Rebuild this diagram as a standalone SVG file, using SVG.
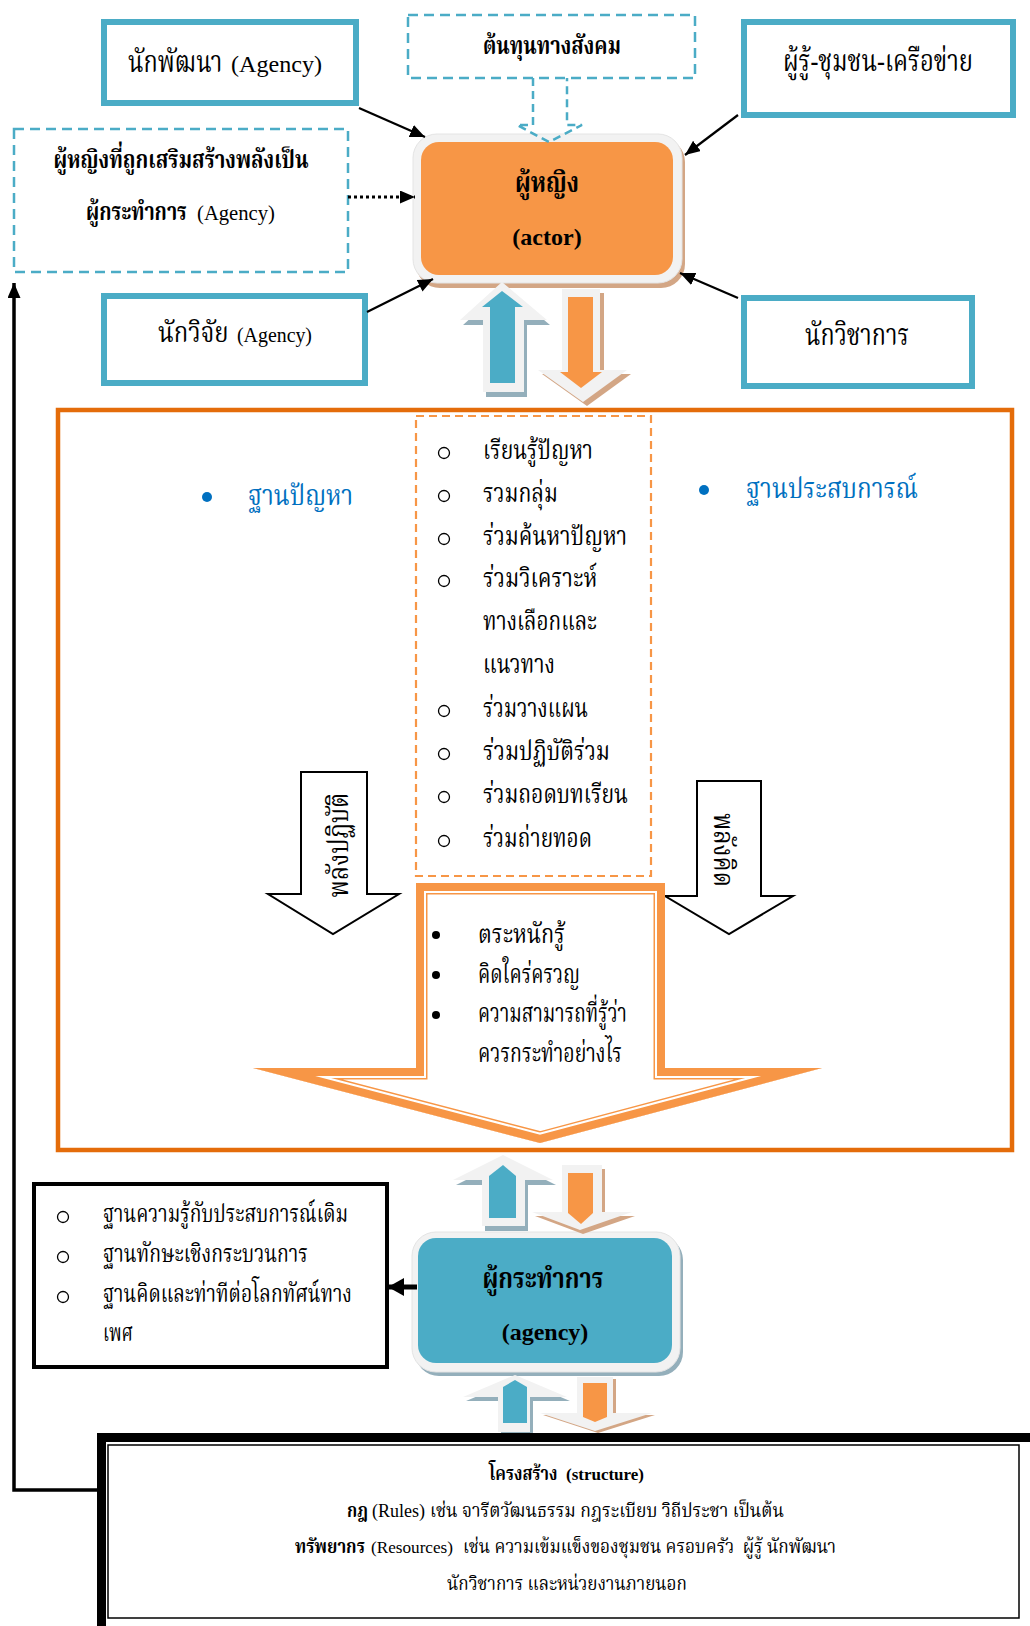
<svg xmlns="http://www.w3.org/2000/svg" width="1030" height="1626" viewBox="0 0 1030 1626">
<defs>
<style>
.t{font-family:"Liberation Serif","Norasi","Noto Serif Thai","Noto Sans Thai Looped",serif;fill:#000}
.b{font-weight:bold}
.box{fill:#fff;stroke:#4BACC6;stroke-width:6}
.dbox{fill:#fff;stroke:#4BACC6;stroke-width:2.5;stroke-dasharray:10 6}
.conn{stroke:#000;stroke-width:2.2;fill:none}
.cir{fill:none;stroke:#000;stroke-width:1.3}
.gray{fill:#F2F2F2}
.shb{fill:#94AFBB}
.sho{fill:#D3A685}
.blue{fill:#4BACC6}
.org{fill:#F79646}
.bt{fill:#0070C0}
</style>
<marker id="ah" viewBox="0 0 15 13" refX="15" refY="6.5" markerWidth="15" markerHeight="13" orient="auto" markerUnits="userSpaceOnUse">
<path d="M0,0 L15,6.5 L0,13 Z" fill="#000"/>
</marker>
<marker id="ahb" viewBox="0 0 16 18" refX="16" refY="9" markerWidth="16" markerHeight="18" orient="auto" markerUnits="userSpaceOnUse">
<path d="M0,0 L16,9 L0,18 Z" fill="#000"/>
</marker>
<path id="bigp" d="M416,883 L665,883 L665,1068 L822,1068 L540,1143 L253,1068 L416,1068 Z"/>
<clipPath id="bigclip"><use href="#bigp"/></clipPath>
</defs>
<rect width="1030" height="1626" fill="#fff"/>

<g id="frame">
<rect x="58" y="410" width="954" height="740" fill="none" stroke="#E46C0A" stroke-width="4.5"/>
</g>

<g id="n-developer">
<rect class="box" x="104" y="22" width="252" height="81"/>
<text class="t" transform="translate(128 72) scale(0.8 1)" x="0" y="0" font-size="30" textLength="118" lengthAdjust="spacingAndGlyphs">นักพัฒนา</text>
<text class="t" x="231" y="72" font-size="24" textLength="91" lengthAdjust="spacingAndGlyphs">(Agency)</text>
</g>
<g id="n-capital">
<rect class="dbox" x="408" y="15" width="287" height="63"/>
<text class="t b" x="552" y="54" font-size="25" text-anchor="middle" textLength="138" lengthAdjust="spacingAndGlyphs">ต้นทุนทางสังคม</text>
</g>
<g id="n-expert">
<rect class="box" x="744" y="22" width="269" height="93"/>
<text class="t" x="878" y="71" font-size="30" text-anchor="middle" textLength="190" lengthAdjust="spacingAndGlyphs">ผู้รู้-ชุมชน-เครือข่าย</text>
</g>
<g id="n-empowered">
<rect class="dbox" x="14" y="129" width="334" height="143"/>
<text class="t b" x="181" y="168" font-size="25" text-anchor="middle" textLength="255" lengthAdjust="spacingAndGlyphs">ผู้หญิงที่ถูกเสริมสร้างพลังเป็น</text>
<text class="t b" transform="translate(86 220) scale(0.82 1)" x="0" y="0" font-size="25" textLength="123" lengthAdjust="spacingAndGlyphs">ผู้กระทำการ</text>
<text class="t" x="197" y="220" font-size="21" textLength="78" lengthAdjust="spacingAndGlyphs">(Agency)</text>
</g>
<g id="n-researcher">
<rect class="box" x="104" y="296" width="261" height="87"/>
<text class="t" transform="translate(158 342) scale(0.85 1)" x="0" y="0" font-size="28" textLength="83" lengthAdjust="spacingAndGlyphs">นักวิจัย</text>
<text class="t" x="237" y="342" font-size="20" textLength="75" lengthAdjust="spacingAndGlyphs">(Agency)</text>
</g>
<g id="n-academic">
<rect class="box" x="744" y="298" width="228" height="88"/>
<text class="t" x="857" y="345" font-size="30" text-anchor="middle" textLength="104" lengthAdjust="spacingAndGlyphs">นักวิชาการ</text>
</g>
<g id="n-actor">
<rect x="416" y="138" width="269" height="150" rx="24" fill="#D3A685"/>
<rect x="413" y="134" width="269" height="149" rx="24" fill="#F2F2F2" stroke="#E4E4E4" stroke-width="1"/>
<rect x="421" y="142" width="252" height="133" rx="18" fill="#F79646"/>
<text class="t b" x="547" y="192" font-size="29" text-anchor="middle" textLength="64" lengthAdjust="spacingAndGlyphs">ผู้หญิง</text>
<text class="t b" x="547" y="245" font-size="24" text-anchor="middle">(actor)</text>
</g>

<g id="n-bases">
<circle cx="207" cy="497" r="5" class="bt"/>
<text class="t" x="248" y="505" font-size="28" style="fill:#0070C0" textLength="105" lengthAdjust="spacingAndGlyphs">ฐานปัญหา</text>
<circle cx="704" cy="490" r="5" class="bt"/>
<text class="t" x="746" y="498" font-size="28" style="fill:#0070C0" textLength="172" lengthAdjust="spacingAndGlyphs">ฐานประสบการณ์</text>
</g>

<g id="n-process">
<rect x="416" y="416" width="235" height="460" fill="none" stroke="#F79646" stroke-width="2.2" stroke-dasharray="8 5"/>
<circle class="cir" cx="444" cy="453" r="5.5"/>
<circle class="cir" cx="444" cy="496" r="5.5"/>
<circle class="cir" cx="444" cy="539" r="5.5"/>
<circle class="cir" cx="444" cy="581" r="5.5"/>
<circle class="cir" cx="444" cy="711" r="5.5"/>
<circle class="cir" cx="444" cy="754" r="5.5"/>
<circle class="cir" cx="444" cy="797" r="5.5"/>
<circle class="cir" cx="444" cy="841" r="5.5"/>
<text class="t" x="483" y="459" font-size="26" textLength="110" lengthAdjust="spacingAndGlyphs">เรียนรู้ปัญหา</text>
<text class="t" x="483" y="502" font-size="26" textLength="75" lengthAdjust="spacingAndGlyphs">รวมกลุ่ม</text>
<text class="t" x="483" y="545" font-size="26" textLength="144" lengthAdjust="spacingAndGlyphs">ร่วมค้นหาปัญหา</text>
<text class="t" x="483" y="587" font-size="26" textLength="114" lengthAdjust="spacingAndGlyphs">ร่วมวิเคราะห์</text>
<text class="t" x="483" y="630" font-size="26" textLength="114" lengthAdjust="spacingAndGlyphs">ทางเลือกและ</text>
<text class="t" x="483" y="673" font-size="26" textLength="72" lengthAdjust="spacingAndGlyphs">แนวทาง</text>
<text class="t" x="483" y="717" font-size="26" textLength="105" lengthAdjust="spacingAndGlyphs">ร่วมวางแผน</text>
<text class="t" x="483" y="760" font-size="26" textLength="127" lengthAdjust="spacingAndGlyphs">ร่วมปฏิบัติร่วม</text>
<text class="t" x="483" y="803" font-size="26" textLength="145" lengthAdjust="spacingAndGlyphs">ร่วมถอดบทเรียน</text>
<text class="t" x="483" y="847" font-size="26" textLength="109" lengthAdjust="spacingAndGlyphs">ร่วมถ่ายทอด</text>
</g>

<g id="n-practice">
<path d="M301,772 L367,772 L367,894 L399,894 L333,934 L268,894 L301,894 Z" fill="#fff" stroke="#000" stroke-width="2"/>
<text class="t" x="348" y="845" font-size="28" text-anchor="middle" transform="rotate(-90 348 845)" textLength="105" lengthAdjust="spacingAndGlyphs">พลังปฏิบัติ</text>
</g>
<g id="n-thinking">
<path d="M697,781 L761,781 L761,896 L793,896 L729,934 L665,896 L697,896 Z" fill="#fff" stroke="#000" stroke-width="2"/>
<text class="t" x="714" y="850" font-size="28" text-anchor="middle" transform="rotate(90 714 850)" textLength="74" lengthAdjust="spacingAndGlyphs">พลังคิด</text>
</g>

<g id="n-outcome">
<g clip-path="url(#bigclip)">
<use href="#bigp" fill="#fff" stroke="#F79646" stroke-width="23" stroke-miterlimit="20"/>
<use href="#bigp" fill="none" stroke="#fff" stroke-width="20" stroke-miterlimit="20"/>
<use href="#bigp" fill="none" stroke="#F79646" stroke-width="16" stroke-miterlimit="20"/>
</g>
<circle cx="436" cy="935" r="4"/>
<circle cx="436" cy="975" r="4"/>
<circle cx="436" cy="1015" r="4"/>
<text class="t" x="478" y="943" font-size="26" textLength="87" lengthAdjust="spacingAndGlyphs">ตระหนักรู้</text>
<text class="t" x="478" y="983" font-size="26" textLength="102" lengthAdjust="spacingAndGlyphs">คิดใคร่ครวญ</text>
<text class="t" x="478" y="1022" font-size="26" textLength="149" lengthAdjust="spacingAndGlyphs">ความสามารถที่รู้ว่า</text>
<text class="t" x="478" y="1062" font-size="26" textLength="144" lengthAdjust="spacingAndGlyphs">ควรกระทำอย่างไร</text>
</g>

<g id="n-knowledge">
<rect x="34" y="1184" width="353" height="183" fill="#fff" stroke="#000" stroke-width="4"/>
<circle class="cir" cx="63" cy="1217" r="5.5"/>
<circle class="cir" cx="63" cy="1257" r="5.5"/>
<circle class="cir" cx="63" cy="1297" r="5.5"/>
<text class="t" x="103" y="1222" font-size="25" textLength="245" lengthAdjust="spacingAndGlyphs">ฐานความรู้กับประสบการณ์เดิม</text>
<text class="t" x="103" y="1262" font-size="25" textLength="205" lengthAdjust="spacingAndGlyphs">ฐานทักษะเชิงกระบวนการ</text>
<text class="t" x="103" y="1302" font-size="25" textLength="249" lengthAdjust="spacingAndGlyphs">ฐานคิดและท่าทีต่อโลกทัศน์ทาง</text>
<text class="t" x="103" y="1341" font-size="25" textLength="30" lengthAdjust="spacingAndGlyphs">เพศ</text>
</g>

<g id="n-agency">
<rect x="415" y="1236" width="268" height="140" rx="24" fill="#94AFBB"/>
<rect x="412" y="1232" width="268" height="140" rx="24" fill="#F2F2F2" stroke="#E4E4E4" stroke-width="1"/>
<rect x="418" y="1238" width="254" height="125" rx="18" fill="#4BACC6"/>
<text class="t b" x="543" y="1288" font-size="28" text-anchor="middle" textLength="121" lengthAdjust="spacingAndGlyphs">ผู้กระทำการ</text>
<text class="t b" x="545" y="1340" font-size="24" text-anchor="middle">(agency)</text>
</g>

<g id="connectors">
<path class="conn" d="M359,108 L425,137" marker-end="url(#ah)"/>
<path class="conn" d="M738,115 L685,155" marker-end="url(#ah)"/>
<path class="conn" d="M367,312 L433,279" marker-end="url(#ah)"/>
<path class="conn" d="M738,298 L680,273" marker-end="url(#ah)"/>
<path d="M348,197 L415,197" stroke="#000" stroke-width="3" stroke-dasharray="3 3" fill="none" marker-end="url(#ah)"/>
<path d="M98,1490 L14,1490 L14,283" stroke="#000" stroke-width="3.5" fill="none" marker-end="url(#ah)"/>
<path d="M417,1287 L388,1287" stroke="#000" stroke-width="5" fill="none" marker-end="url(#ahb)"/>
<path d="M533,78 L533,125 L517,125 L549,142 L582,125 L567,125 L567,78" fill="none" stroke="#4BACC6" stroke-width="2.5" stroke-dasharray="8 5"/>
<path class="shb" transform="translate(3,5)" d="M502,282 L547,320 L524,320 L524,392 L483,392 L483,320 L460,320 Z"/>
<path class="gray" d="M502,282 L547,320 L524,320 L524,392 L483,392 L483,320 L460,320 Z"/>
<path class="blue" d="M502,291 L523,307 L515,307 L515,383 L490,383 L490,307 L482,307 Z"/>
<path class="sho" transform="translate(4,4)" d="M562,289 L600,289 L600,370 L627,370 L583,402 L538,370 L562,370 Z"/>
<path class="gray" d="M562,289 L600,289 L600,370 L627,370 L583,402 L538,370 L562,370 Z"/>
<path class="org" d="M568,297 L593,297 L593,372 L602,372 L581,388 L560,372 L568,372 Z"/>
<path class="shb" transform="translate(3,5)" d="M503,1155 L553,1180 L525,1180 L525,1226 L482,1226 L482,1180 L453,1180 Z"/>
<path class="gray" d="M503,1155 L553,1180 L525,1180 L525,1226 L482,1226 L482,1180 L453,1180 Z"/>
<path class="blue" d="M503,1165 L516,1176 L516,1218 L489,1218 L489,1176 Z"/>
<path class="sho" transform="translate(3,4)" d="M562,1165 L602,1165 L602,1212 L632,1212 L580,1230 L532,1212 L562,1212 Z"/>
<path class="gray" d="M562,1165 L602,1165 L602,1212 L632,1212 L580,1230 L532,1212 L562,1212 Z"/>
<path class="org" d="M568,1173 L593,1173 L593,1213 L581,1224 L568,1213 Z"/>
<path class="shb" transform="translate(3,4)" d="M515,1375 L567,1397 L530,1397 L530,1429 L498,1429 L498,1397 L463,1397 Z"/>
<path class="gray" d="M515,1375 L567,1397 L530,1397 L530,1432 L498,1432 L498,1397 L463,1397 Z"/>
<path class="blue" d="M515,1380 L527,1387 L527,1423 L503,1423 L503,1387 Z"/>
<path class="sho" transform="translate(3,2)" d="M577,1377 L613,1377 L613,1413 L652,1413 L595,1431 L540,1413 L577,1413 Z"/>
<path class="gray" d="M577,1377 L613,1377 L613,1413 L652,1413 L595,1431 L540,1413 L577,1413 Z"/>
<path class="org" d="M583,1383 L607,1383 L607,1417 L595,1422 L583,1417 Z"/>
</g>

<g id="n-structure">
<rect x="101.5" y="1437.5" width="940" height="200" fill="#fff" stroke="#000" stroke-width="9"/>
<rect x="108" y="1445" width="911" height="173" fill="none" stroke="#000" stroke-width="1.5"/>
<text class="t b" transform="translate(489 1480) scale(0.9 1)" x="0" y="0" font-size="20" textLength="76" lengthAdjust="spacingAndGlyphs">โครงสร้าง</text>
<text class="t b" x="566" y="1480" font-size="17" textLength="78" lengthAdjust="spacingAndGlyphs">(structure)</text>
<text class="t b" x="347" y="1517" font-size="20" textLength="21" lengthAdjust="spacingAndGlyphs">กฎ</text>
<text class="t" x="372" y="1517" font-size="18" textLength="53" lengthAdjust="spacingAndGlyphs">(Rules)</text>
<text class="t" x="430" y="1517" font-size="20" textLength="354" lengthAdjust="spacingAndGlyphs">เช่น จารีตวัฒนธรรม กฎระเบียบ วิถีประชา เป็นต้น</text>
<text class="t b" x="295" y="1553" font-size="20" textLength="70" lengthAdjust="spacingAndGlyphs">ทรัพยากร</text>
<text class="t" x="371" y="1553" font-size="17" textLength="82" lengthAdjust="spacingAndGlyphs">(Resources)</text>
<text class="t" x="463" y="1553" font-size="20" textLength="373" lengthAdjust="spacingAndGlyphs" style="white-space:pre">เช่น ความเข้มแข็งของชุมชน ครอบครัว  ผู้รู้ นักพัฒนา</text>
<text class="t" x="567" y="1590" font-size="20" text-anchor="middle" textLength="240" lengthAdjust="spacingAndGlyphs">นักวิชาการ และหน่วยงานภายนอก</text>
</g>
</svg>
